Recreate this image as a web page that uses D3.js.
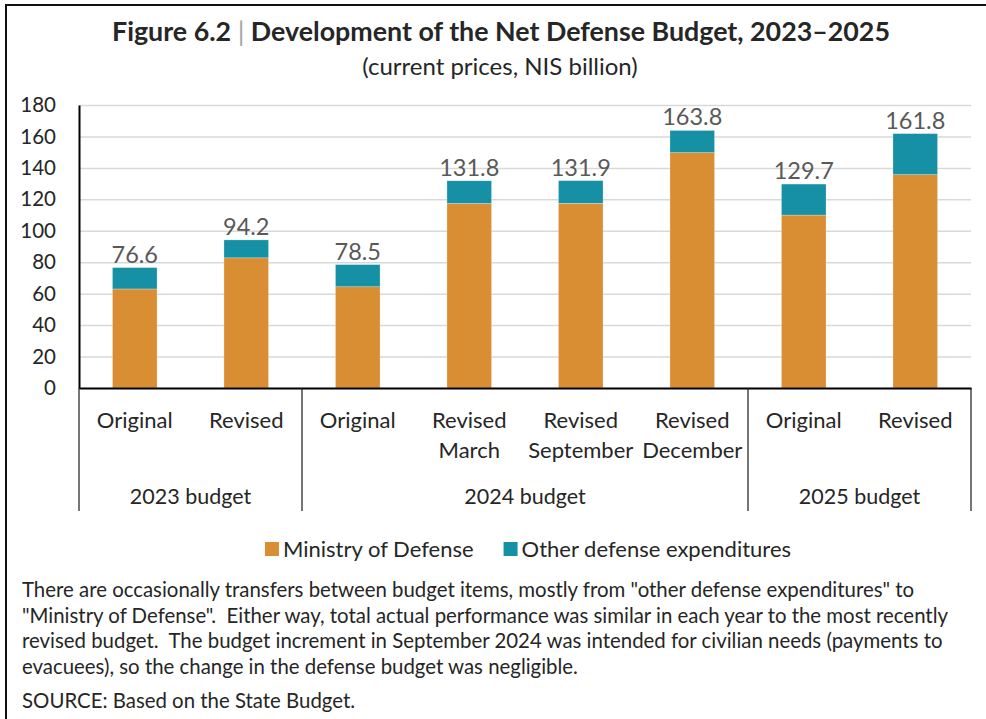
<!DOCTYPE html>
<html>
<head>
<meta charset="utf-8">
<script src="https://cdn.jsdelivr.net/npm/d3@7"></script>
<style>
  html, body { margin: 0; padding: 0; background: #fff; }
  svg { display: block; font-family: Lato, "Open Sans", sans-serif; }
  .pre { white-space: pre; }
</style>
</head>
<body>
<svg id="chart" width="986" height="719"></svg>
<script>
// Net defense budget by budget version (NIS billion, current prices)
const categories = ["Original", "Revised", "Original", "Revised|March", "Revised|September", "Revised|December", "Original", "Revised"];
const groupNames = ["2023 budget", "2024 budget", "2025 budget"];
const groupOf = [0, 0, 1, 1, 1, 1, 2, 2];
const ministryOfDefense = [63.0, 82.8, 64.4, 117.4, 117.5, 149.7, 110.0, 135.7];
const otherDefense = [13.6, 11.4, 14.1, 14.4, 14.4, 14.1, 19.7, 26.1];
const totals = [76.6, 94.2, 78.5, 131.8, 131.9, 163.8, 129.7, 161.8];
const yTicks = [0, 20, 40, 60, 80, 100, 120, 140, 160, 180];
const seriesNames = ["Ministry of Defense", "Other defense expenditures"];
const noteLines = [
  "There are occasionally transfers between budget items, mostly from \"other defense expenditures\" to",
  "\"Ministry of Defense\".  Either way, total actual performance was similar in each year to the most recently",
  "revised budget.  The budget increment in September 2024 was intended for civilian needs (payments to",
  "evacuees), so the change in the defense budget was negligible."
];
const sourceLine = "SOURCE: Based on the State Budget.";

const colors = { mod: "#DA8E33", other: "#1690A4" };
const textDark = "#262626";

const svg = d3.select("#chart");

// frame: top and left rules
svg.append("line").attr("x1", 5).attr("x2", 986).attr("y1", 5).attr("y2", 5)
  .attr("stroke", "#111").attr("stroke-width", 2);
svg.append("line").attr("x1", 6).attr("x2", 6).attr("y1", 4).attr("y2", 719)
  .attr("stroke", "#111").attr("stroke-width", 2);

// title
const title = svg.append("text").attr("x", 501).attr("y", 41)
  .attr("text-anchor", "middle").attr("font-size", 26.8).attr("font-weight", 700).attr("fill", textDark);
title.append("tspan").text("Figure 6.2 ");
title.append("tspan").attr("fill", "#A6A6A6").attr("font-weight", 400).text("|");
title.append("tspan").text(" Development of the Net Defense Budget, 2023\u20132025");

svg.append("text").attr("x", 500).attr("y", 75).attr("text-anchor", "middle")
  .attr("font-size", 24).attr("fill", textDark).text("(current prices, NIS billion)");

// plot area
const plot = { left: 79, right: 971, top: 105, bottom: 388 };
const keys = categories.map((c, i) => i);

const x = d3.scaleBand().domain(keys).range([plot.left, plot.right])
  .paddingInner(0.6).paddingOuter(0.3);
const y = d3.scaleLinear().domain([0, 180]).range([plot.bottom, plot.top]);

// gridlines
const grid = svg.append("g").attr("transform", `translate(${plot.left},0)`)
  .call(d3.axisLeft(y).tickValues(yTicks).tickSize(-(plot.right - plot.left)).tickFormat(""));
grid.select(".domain").remove();
grid.selectAll("line").attr("stroke", "#D9D9D9").attr("stroke-width", 1.5);

// stacked bars
const rows = keys.map(i => ({ i, mod: ministryOfDefense[i], other: otherDefense[i] }));
const stacked = d3.stack().keys(["mod", "other"])(rows);

svg.append("g").selectAll("g").data(stacked).join("g")
  .attr("fill", s => colors[s.key])
  .selectAll("rect").data(s => s).join("rect")
  .attr("x", d => x(d.data.i))
  .attr("width", x.bandwidth())
  .attr("y", d => y(d[1]))
  .attr("height", d => y(d[0]) - y(d[1]))
  .attr("stroke", "#ffffff").attr("stroke-opacity", 0.45).attr("stroke-width", 0.6);

// total labels
svg.append("g").selectAll("text").data(keys).join("text")
  .attr("x", i => x(i) + x.bandwidth() / 2)
  .attr("y", i => y(totals[i]) - 5)
  .attr("text-anchor", "middle").attr("font-size", 23.5).attr("fill", "#595959")
  .text(i => totals[i].toFixed(1));

// y axis
const yAxis = svg.append("g").attr("transform", `translate(${plot.left},0)`)
  .call(d3.axisLeft(y).tickValues(yTicks).tickSize(0).tickSizeOuter(0).tickPadding(23));
yAxis.select(".domain").attr("stroke", "#000").attr("stroke-width", 2);
yAxis.selectAll("text").attr("font-size", 20.5).attr("fill", textDark).attr("font-family", "Lato, sans-serif");

// x axis with category labels
const xAxis = svg.append("g").attr("transform", `translate(0,${plot.bottom})`)
  .call(d3.axisBottom(x).tickSize(0).tickSizeOuter(0).tickFormat(""));
xAxis.select(".domain").attr("stroke", "#000").attr("stroke-width", 2);

const catLabels = svg.append("g").selectAll("text").data(keys).join("text")
  .attr("text-anchor", "middle").attr("font-size", 22).attr("fill", textDark);
catLabels.each(function (i) {
  const lines = categories[i].split("|");
  const t = d3.select(this);
  lines.forEach((ln, k) => {
    t.append("tspan").attr("x", x(i) + x.bandwidth() / 2).attr("y", 428 + k * 29.5).text(ln);
  });
});

// group separators and group labels
const step = x.step();
const edge = i => x(i) - (step - x.bandwidth()) / 2;
const groupRanges = groupNames.map((g, gi) => {
  const members = keys.filter(i => groupOf[i] === gi);
  return { name: g, x0: edge(members[0]), x1: edge(members[members.length - 1]) + step };
});
const sepX = [groupRanges[0].x0, ...groupRanges.map(g => g.x1)];
svg.append("g").selectAll("line").data(sepX).join("line")
  .attr("x1", d => d).attr("x2", d => d)
  .attr("y1", plot.bottom).attr("y2", 511)
  .attr("stroke", "#1a1a1a").attr("stroke-width", 1.2);
svg.append("g").selectAll("text").data(groupRanges).join("text")
  .attr("x", g => (g.x0 + g.x1) / 2).attr("y", 504)
  .attr("text-anchor", "middle").attr("font-size", 21.5).attr("fill", textDark)
  .text(g => g.name);

// legend
const legend = svg.append("g");
const legendColors = [colors.mod, colors.other];
let lx = 0;
seriesNames.forEach((name, k) => {
  const item = legend.append("g").attr("transform", `translate(${lx},0)`);
  item.append("rect").attr("x", 0).attr("y", -7).attr("width", 14).attr("height", 14).attr("fill", legendColors[k]);
  const t = item.append("text").attr("x", 18).attr("y", 8).attr("font-size", 22).attr("fill", textDark).text(name);
  lx += 18 + t.node().getComputedTextLength() + 30;
});
const legendWidth = lx - 30;
legend.attr("transform", `translate(${528 - legendWidth / 2},549)`);

// notes
const notes = svg.append("g").attr("font-size", 20.4).attr("fill", textDark);
noteLines.forEach((ln, k) => {
  notes.append("text").attr("class", "pre").attr("x", 22).attr("y", 597 + k * 25.7).text(ln);
});
notes.append("text").attr("class", "pre").attr("x", 22).attr("y", 708).text(sourceLine);
</script>
</body>
</html>
